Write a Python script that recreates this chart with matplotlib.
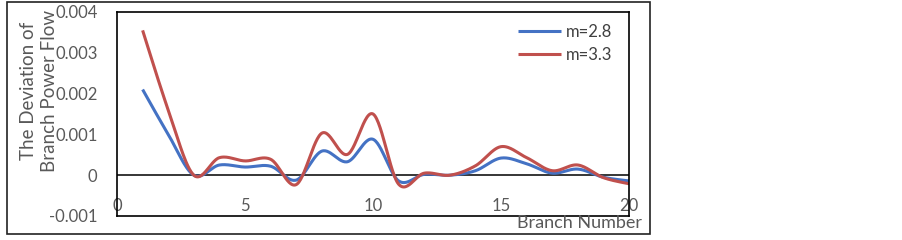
import numpy as np
import matplotlib
matplotlib.use("Agg")
import matplotlib.pyplot as plt
from matplotlib.patches import Rectangle

plt.rcParams['font.family'] = ['Lato', 'DejaVu Sans']

## branch numbers and deviation values
branches = list(range(1, 21))
dev_m28 = [0.0021, 0.001, 0.0, 0.00025, 0.0002, 0.00022, -0.00012, 0.00059, 0.00033, 0.00088,
           -0.00014, 0.00002, 0.0, 0.00011, 0.00042, 0.00028, 0.00005, 0.00015, -0.00005, -0.00014]
dev_m33 = [0.00355, 0.0016, 0.0, 0.00043, 0.00035, 0.00039, -0.00023, 0.00103, 0.00051, 0.0015,
           -0.00022, 0.00005, 0.0, 0.00023, 0.0007, 0.00043, 0.00011, 0.00025, -0.00006, -0.00021]
series_labels = ["m=2.8", "m=3.3"]
series_colors = ["#4472C4", "#C0504D"]
yticks = [-0.001, 0, 0.001, 0.002, 0.003, 0.004]
yticklabels = ["-0.001", "0", "0.001", "0.002", "0.003", "0.004"]
xticks = [0, 5, 10, 15, 20]


def smooth(x, y, n=30):
    ## Excel-like smoothed line (Catmull-Rom style bezier through the points)
    x = np.asarray(x, float)
    y = np.asarray(y, float)
    px = np.concatenate([[x[0]], x, [x[-1]]])
    py = np.concatenate([[y[0]], y, [y[-1]]])
    xs, ys = [], []
    t = np.linspace(0, 1, n)
    for i in range(1, len(px) - 2):
        p0 = np.array([px[i], py[i]])
        p3 = np.array([px[i + 1], py[i + 1]])
        c1 = p0 + (p3 - np.array([px[i - 1], py[i - 1]])) / 6
        c2 = p3 - (np.array([px[i + 2], py[i + 2]]) - p0) / 6
        pts = ((1 - t) ** 3)[:, None] * p0 + (3 * (1 - t) ** 2 * t)[:, None] * c1 \
            + (3 * (1 - t) * t ** 2)[:, None] * c2 + (t ** 3)[:, None] * p3
        xs.extend(pts[:, 0])
        ys.extend(pts[:, 1])
    return xs, ys


fig = plt.figure(figsize=(9.03, 2.4), dpi=100)
fig.patches.append(Rectangle((0.0078, 0.025), 0.712, 0.967, transform=fig.transFigure,
                             fill=False, edgecolor="#222222", lw=1.2))
ax = fig.add_axes([0.1296, 0.1, 0.567, 0.85])

for vals, lab, col in zip([dev_m28, dev_m33], series_labels, series_colors):
    sx, sy = smooth(branches, vals)
    ax.plot(sx, sy, color=col, lw=2.2, label=lab, solid_capstyle='butt')

ax.axhline(0, color="black", lw=1.1, zorder=1)
ax.set_xlim(0, 20)
ax.set_ylim(-0.001, 0.004)
ax.set_yticks(yticks)
ax.set_yticklabels(yticklabels)
ax.set_xticks(xticks)
for s in ax.spines.values():
    s.set_color("black")
    s.set_linewidth(1.2)
ax.tick_params(axis='y', length=0, pad=14, labelsize=12, labelcolor="#595959")
ax.tick_params(axis='x', length=0, pad=-13, labelsize=12, labelcolor="#595959")
for lbl in ax.get_xticklabels():
    lbl.set_verticalalignment('top')

fig.text(0.043, 0.62, "The Deviation of\nBranch Power Flow", rotation=90, ha='center',
         va='center', fontsize=13.5, color="#595959", linespacing=1.3)
ax.text(1.025, -0.035, "Branch Number", transform=ax.transAxes, ha='right', va='center',
        fontsize=13, color="#595959")

ax.legend(loc='upper right', frameon=False, fontsize=12, handlelength=2.6,
          borderaxespad=0.3, labelcolor="#404040", handletextpad=0.3, labelspacing=0.45,
          bbox_to_anchor=(0.99, 1.0))

fig.savefig("out.png", dpi=100)
